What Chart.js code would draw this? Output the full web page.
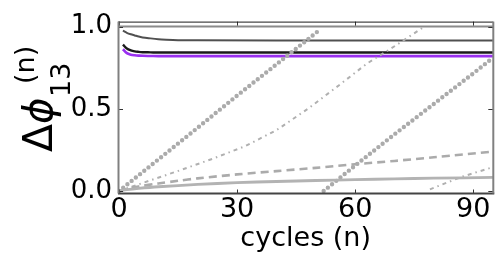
<!DOCTYPE html>
<html><head><meta charset="utf-8">
<script src="https://cdn.jsdelivr.net/npm/chart.js@4.4.1/dist/chart.umd.min.js"></script>
<style>html,body{margin:0;padding:0;background:#fff;}</style>
</head><body>
<canvas id="c" width="500" height="259" style="width:500px;height:259px;display:block"></canvas>
<script>
// ---- data ----
const xTicks = [0, 30, 60, 90];
const yTicks = [0.0, 0.5, 1.0];

const topGrayX = [0, 95];
const topGrayY = [1.0, 1.0];

const earlyX  = [1, 2, 3, 4, 5, 6, 8, 10, 12, 15, 20, 40, 60, 80, 95];
const darkY   = [0.975, 0.962, 0.953, 0.946, 0.939, 0.934, 0.928, 0.923, 0.920, 0.917, 0.916, 0.915, 0.915, 0.915, 0.915];
const blackY  = [0.890, 0.866, 0.855, 0.849, 0.846, 0.844, 0.843, 0.842, 0.842, 0.842, 0.842, 0.842, 0.842, 0.842, 0.842];
const purpleY = [0.862, 0.838, 0.829, 0.825, 0.823, 0.822, 0.821, 0.820, 0.820, 0.820, 0.820, 0.820, 0.820, 0.820, 0.820];

const solidX = [0, 2, 5, 10, 20, 30, 40, 50, 60, 70, 80, 95];
const solidY = [0, 0.008, 0.016, 0.026, 0.040, 0.051, 0.058, 0.064, 0.069, 0.074, 0.078, 0.083];

const dashedX = [0, 2, 5, 10, 15, 20, 30, 40, 50, 60, 70, 80, 95];
const dashedY = [0, 0.013, 0.028, 0.046, 0.062, 0.077, 0.101, 0.121, 0.141, 0.163, 0.183, 0.205, 0.240];

const dashDotX = [0, 8, 16, 24, 32, 40, 48, 56, 63, 70, 77, 78, 79, 87, 95];
const dashDotY = [0, 0.065, 0.130, 0.198, 0.272, 0.370, 0.500, 0.645, 0.775, 0.880, 0.990, null, 0.010, 0.086, 0.145];

const dottedX = [0, 10, 20, 30, 40, 51, 51.5, 52, 60, 70, 80, 90, 95];
const dottedY = [0, 0.192, 0.385, 0.580, 0.770, 0.980, null, 0.0, 0.155, 0.345, 0.530, 0.715, 0.810];

const pts = (xs, ys) => xs.map((x, i) => ({x: x, y: ys[i]}));
const FONT = '"DejaVu Sans", sans-serif';

const framePlugin = {
  id: 'frame',
  afterDatasetsDraw(chart) {
    const {ctx, chartArea: a, scales: {x, y}} = chart;
    ctx.save();
    ctx.strokeStyle = '#333';
    ctx.lineWidth = 1;
    ctx.beginPath();
    xTicks.forEach(v => {
      const px = Math.round(x.getPixelForValue(v)) + 0.5;
      ctx.moveTo(px, a.bottom); ctx.lineTo(px, a.bottom - 4);
      ctx.moveTo(px, a.top); ctx.lineTo(px, a.top + 4);
    });
    yTicks.forEach(v => {
      const py = Math.round(y.getPixelForValue(v)) + 0.5;
      ctx.moveTo(a.left, py); ctx.lineTo(a.left + 5, py);
      ctx.moveTo(a.right, py); ctx.lineTo(a.right - 5, py);
    });
    ctx.stroke();
    ctx.lineWidth = 1;
    ctx.strokeStyle = '#1a1a1a';
    ctx.beginPath(); ctx.moveTo(a.left, a.top + 0.5); ctx.lineTo(a.right, a.top + 0.5); ctx.stroke();
    ctx.lineWidth = 2;
    ctx.strokeStyle = '#444';
    ctx.beginPath(); ctx.moveTo(a.left, a.bottom); ctx.lineTo(a.right + 1, a.bottom); ctx.stroke();
    ctx.strokeStyle = '#808080';
    ctx.beginPath(); ctx.moveTo(a.left + 0.5, a.top); ctx.lineTo(a.left + 0.5, a.bottom); ctx.stroke();
    ctx.beginPath(); ctx.moveTo(a.right, a.top); ctx.lineTo(a.right, a.bottom); ctx.stroke();
    ctx.restore();
  },
  afterDraw(chart) {
    const ctx = chart.ctx;
    ctx.save();
    ctx.translate(52, 152);
    ctx.rotate(-Math.PI / 2);
    ctx.fillStyle = '#000';
    ctx.textBaseline = 'alphabetic';
    ctx.textAlign = 'left';
    ctx.font = '41px ' + FONT;
    ctx.fillText('\u0394', 0, 0);
    ctx.font = 'italic 40px ' + FONT;
    ctx.fillText('\u03D5', 28, 0);
    ctx.font = '27px ' + FONT;
    ctx.fillText('13', 55, 18);
    ctx.font = '27px ' + FONT;
    ctx.fillText('(n)', 68, -18);
    ctx.restore();
  }
};

const light = '#ababab';

new Chart(document.getElementById('c'), {
  type: 'line',
  data: {
    datasets: [
      {data: pts(solidX, solidY), borderColor: '#b3b3b3', borderWidth: 2.8, pointRadius: 0, tension: 0.3},
      {data: pts(dashedX, dashedY), borderColor: light, borderWidth: 2.6, borderDash: [8, 5], pointRadius: 0, tension: 0.3},
      {data: pts(dashDotX, dashDotY), borderColor: '#b0b0b0', borderWidth: 2, borderDash: [4, 4, 1.5, 4], pointRadius: 0, tension: 0, spanGaps: false},
      {data: pts(dottedX, dottedY), borderColor: '#ababab', borderWidth: 4.4, borderDash: [0, 5.4], borderCapStyle: 'round', pointRadius: 0, spanGaps: false},
      {data: pts(topGrayX, topGrayY), borderColor: '#8a8a8a', borderWidth: 2, pointRadius: 0},
      {data: pts(earlyX, darkY), borderColor: '#505050', borderWidth: 2, pointRadius: 0, cubicInterpolationMode: 'monotone'},
      {data: pts(earlyX, purpleY), borderColor: '#9a30f0', borderWidth: 2.6, pointRadius: 0, cubicInterpolationMode: 'monotone'},
      {data: pts(earlyX, blackY), borderColor: '#1a1a1a', borderWidth: 2.4, pointRadius: 0, cubicInterpolationMode: 'monotone'}
    ]
  },
  options: {
    responsive: false,
    devicePixelRatio: 1,
    animation: false,
    events: [],
    layout: {padding: {left: 0, right: 6.7, top: 12, bottom: 0}},
    plugins: {legend: {display: false}, tooltip: {enabled: false}},
    scales: {
      x: {
        type: 'linear', min: -0.25, max: 95.1,
        afterBuildTicks: s => { s.ticks = xTicks.map(v => ({value: v})); },
        afterFit: s => { s.height = 65.5; },
        grid: {display: false, drawTicks: false},
        border: {display: false},
        ticks: {font: {family: FONT, size: 27}, color: '#000', padding: 0, maxRotation: 0, autoSkip: false, callback: v => String(v)},
        title: {display: true, text: 'cycles (n)', font: {family: FONT, size: 27}, color: '#000', padding: {top: 0, bottom: 3.8}}
      },
      y: {
        type: 'linear', min: -0.015, max: 1.03,
        afterBuildTicks: s => { s.ticks = yTicks.map(v => ({value: v})); },
        afterFit: s => { s.width = 118; },
        grid: {display: false, drawTicks: false},
        border: {display: false},
        ticks: {font: {family: FONT, size: 26}, color: '#000', padding: 6, autoSkip: false, callback: v => Number(v).toFixed(1)}
      }
    }
  },
  plugins: [framePlugin]
});
</script>
</body></html>
